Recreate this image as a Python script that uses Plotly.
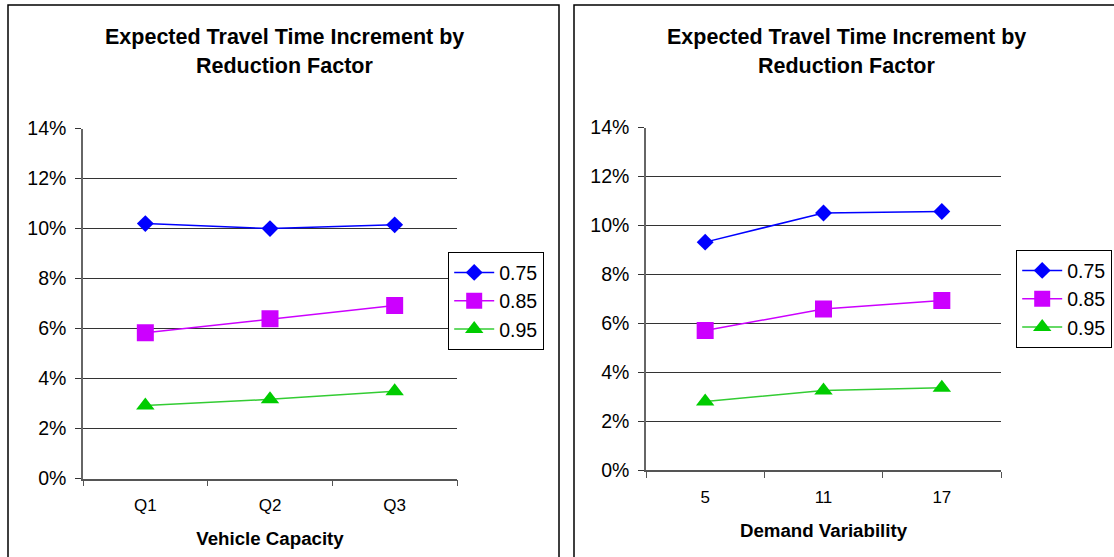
import plotly.graph_objects as go

W, H = 1114, 557

# Data (fractions of travel time)
capacity_cats = ["Q1", "Q2", "Q3"]
variability_cats = ["5", "11", "17"]
factors = ["0.75", "0.85", "0.95"]

capacity_075 = [0.1020, 0.1000, 0.1015]
capacity_085 = [0.0583, 0.0639, 0.0692]
capacity_095 = [0.0292, 0.0317, 0.0349]

variability_075 = [0.0932, 0.1051, 0.1057]
variability_085 = [0.0571, 0.0659, 0.0694]
variability_095 = [0.0281, 0.0326, 0.0337]

y_ticks = [0, 0.02, 0.04, 0.06, 0.08, 0.10, 0.12, 0.14]

FONT = "Arial, Liberation Sans, sans-serif"
styles = [
    dict(color="#0000FF", symbol="diamond", size=13),
    dict(color="#CC00FF", symbol="square", size=17),
    dict(color="#00CC00", symbol="triangle-up", size=16),
]
line_colors = ["#0000FF", "#CC00FF", "#33CC33"]


def px(x):
    return x / W


def py(y):
    return 1 - y / H


fig = go.Figure()

left_series = [capacity_075, capacity_085, capacity_095]
right_series = [variability_075, variability_085, variability_095]

for name, vals, st, lc in zip(factors, left_series, styles, line_colors):
    fig.add_trace(go.Scatter(
        x=capacity_cats, y=vals, name=name, mode="lines+markers",
        xaxis="x", yaxis="y", legend="legend",
        line=dict(color=lc, width=1.5),
        marker=dict(color=st["color"], symbol=st["symbol"], size=st["size"],
                    line=dict(width=0)),
    ))

for name, vals, st, lc in zip(factors, right_series, styles, line_colors):
    fig.add_trace(go.Scatter(
        x=variability_cats, y=vals, name=name, mode="lines+markers",
        xaxis="x2", yaxis="y2", legend="legend2",
        line=dict(color=lc, width=1.5),
        marker=dict(color=st["color"], symbol=st["symbol"], size=st["size"],
                    line=dict(width=0)),
    ))

xaxis_common = dict(
    type="category", range=[-0.5, 2.5], tickson="boundaries",
    ticks="outside", ticklen=6, tickcolor="#555555", tickwidth=1,
    showline=True, linecolor="#555555", linewidth=1.5,
    showgrid=False, zeroline=False, fixedrange=True, automargin=False,
    tickfont=dict(family=FONT, size=17, color="black"),
    ticklabelstandoff=10,
    title=dict(font=dict(family=FONT, size=18.7, color="black", weight="bold"),
               standoff=18),
)
yaxis_common = dict(
    range=[0, 0.14], tickvals=y_ticks, tickformat=".0%",
    ticks="outside", ticklen=6, tickcolor="#333333", tickwidth=1,
    showline=True, linecolor="#666666", linewidth=1.5,
    showgrid=True, gridcolor="#333333", gridwidth=1,
    zeroline=False, fixedrange=True, automargin=False,
    tickfont=dict(family=FONT, size=19.5, color="black"),
    ticklabelstandoff=5,
)

legend_common = dict(
    xanchor="left", yanchor="top", bgcolor="white",
    bordercolor="black", borderwidth=1.2,
    font=dict(family=FONT, size=19.5, color="black"),
    itemwidth=40, tracegroupgap=0,
)

fig.update_layout(
    width=W, height=H,
    margin=dict(l=0, r=0, t=0, b=0, autoexpand=False),
    paper_bgcolor="white", plot_bgcolor="white",
    showlegend=True,
    xaxis=dict(xaxis_common, domain=[px(83), px(457)], anchor="y",
               title_text="Vehicle Capacity"),
    yaxis=dict(yaxis_common, domain=[py(478.6), py(128.6)], anchor="x"),
    xaxis2=dict(xaxis_common, domain=[px(646), px(1001)], anchor="y2",
                title_text="Demand Variability"),
    yaxis2=dict(yaxis_common, domain=[py(470.4), py(127.5)], anchor="x2"),
    legend=dict(legend_common, x=px(448), y=py(252)),
    legend2=dict(legend_common, x=px(1016), y=py(250)),
)

# Chart frames
fig.add_shape(type="rect", xref="paper", yref="paper",
              x0=px(8), x1=px(559), y0=py(620), y1=py(5),
              line=dict(color="black", width=1.5), layer="below")
fig.add_shape(type="rect", xref="paper", yref="paper",
              x0=px(574), x1=px(1130), y0=py(620), y1=py(5),
              line=dict(color="black", width=1.5), layer="below")

# Chart titles
title_lines = ["Expected Travel Time Increment by", "Reduction Factor"]
for cx in (284, 846):
    for line, cy in zip(title_lines, (37, 66)):
        fig.add_annotation(
            x=px(cx), y=py(cy), xref="paper", yref="paper",
            text=line, showarrow=False, xanchor="center", yanchor="middle",
            font=dict(family=FONT, size=21.5, color="black", weight="bold"),
        )

fig.write_html("out.html")
